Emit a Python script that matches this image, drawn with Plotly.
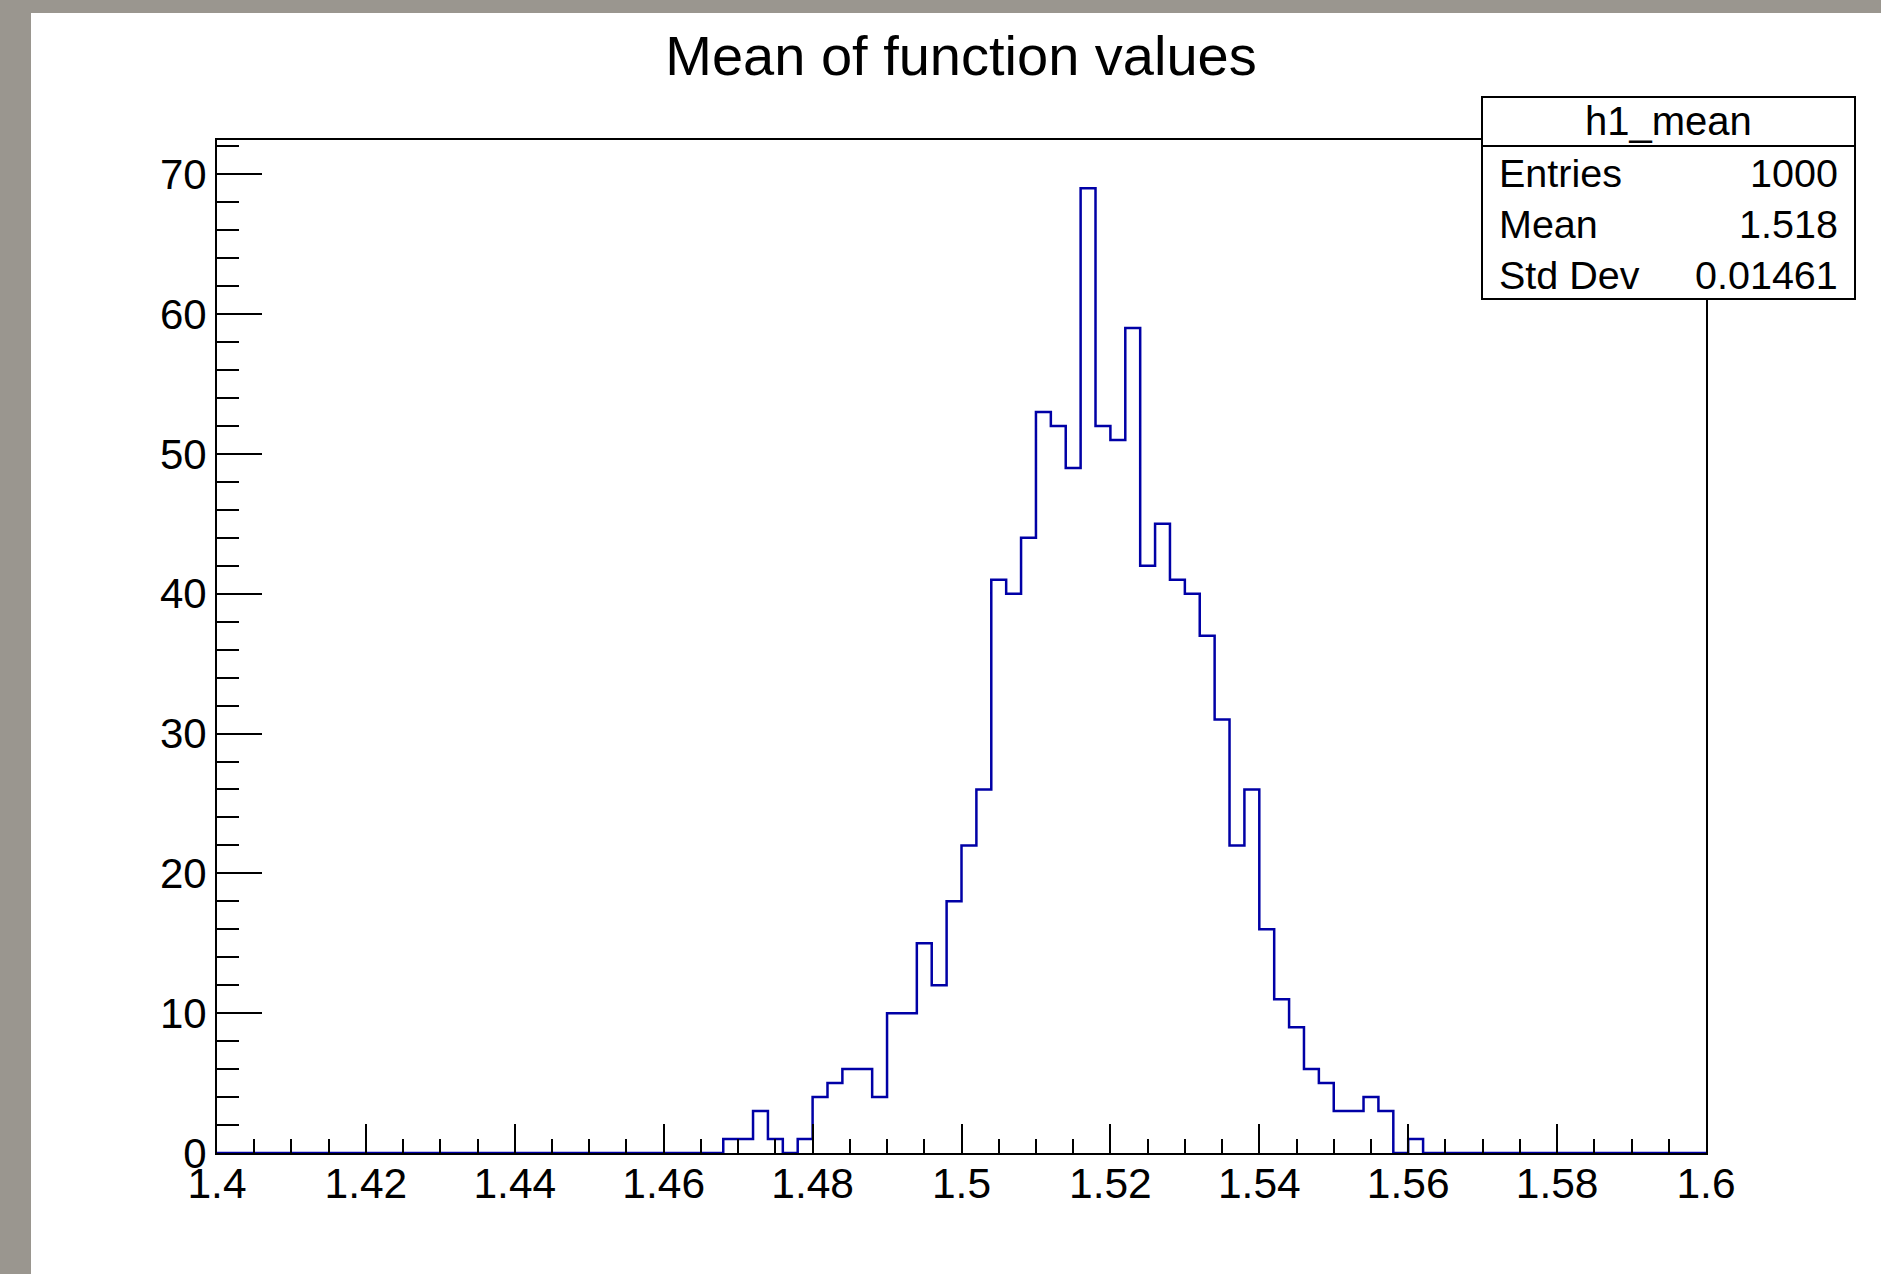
import plotly.graph_objects as go

# Histogram h1_mean: 100 bins between 1.4 and 1.6
bin_low = 1.4
bin_high = 1.6
n_bins = 100
counts = [
    0, 0, 0, 0, 0, 0, 0, 0, 0, 0,
    0, 0, 0, 0, 0, 0, 0, 0, 0, 0,
    0, 0, 0, 0, 0, 0, 0, 0, 0, 0,
    0, 0, 0, 0, 1, 1, 3, 1, 0, 1,
    4, 5, 6, 6, 4, 10, 10, 15, 12, 18,
    22, 26, 41, 40, 44, 53, 52, 49, 69, 52,
    51, 59, 42, 45, 41, 40, 37, 31, 22, 26,
    16, 11, 9, 6, 5, 3, 3, 4, 3, 0,
    1, 0, 0, 0, 0, 0, 0, 0, 0, 0,
    0, 0, 0, 0, 0, 0, 0, 0, 0, 0,
]

x_tick_vals = [1.4, 1.42, 1.44, 1.46, 1.48, 1.5, 1.52, 1.54, 1.56, 1.58, 1.6]
x_tick_text = ["1.4", "1.42", "1.44", "1.46", "1.48", "1.5", "1.52", "1.54", "1.56", "1.58", "1.6"]
y_tick_vals = [0, 10, 20, 30, 40, 50, 60, 70]
y_tick_text = ["0", "10", "20", "30", "40", "50", "60", "70"]

title_text = "Mean of function values"
stats_name = "h1_mean"
stats_labels = ["Entries", "Mean", "Std Dev"]
stats_values = ["1000", "1.518", "0.01461"]

# canvas geometry (pixels)
W, H = 1881, 1274
L, R, T, B = 217, 1706, 140, 1153
FONT = "Liberation Sans, Arial, Helvetica, sans-serif"
LINE_BLUE = "#0000a6"
FRAME_GREY = "#9a968f"


def px(xp):
    return (xp - L) / (R - L)


def py(yp):
    return (B - yp) / (B - T)


# step outline through bin edges
width = (bin_high - bin_low) / n_bins
edges = [bin_low + i * width for i in range(n_bins + 1)]
step_x = edges[:]
step_y = counts + [counts[-1]]

fig = go.Figure()
fig.add_trace(go.Scatter(
    x=step_x, y=step_y, mode="lines",
    line=dict(shape="hv", color=LINE_BLUE, width=2.5),
    hoverinfo="skip", showlegend=False,
))

y_max = max(counts) * 1.05

fig.update_layout(
    width=W, height=H,
    margin=dict(l=L, r=W - R, t=T, b=H - B, pad=0),
    paper_bgcolor="white",
    plot_bgcolor="white",
    showlegend=False,
    font=dict(family=FONT, color="black"),
    title=dict(
        text=title_text, x=961 / W, y=1 - 55 / H,
        xref="container", yref="container",
        xanchor="center", yanchor="middle",
        font=dict(family=FONT, size=56, color="black"),
    ),
    xaxis=dict(
        range=[bin_low, bin_high], showgrid=False, zeroline=False,
        showline=True, linecolor="black", linewidth=2, mirror=True,
        tickmode="array", tickvals=x_tick_vals, ticktext=x_tick_text,
        ticks="inside", ticklen=29, tickwidth=2, tickcolor="black",
        tickfont=dict(family=FONT, size=42.5, color="black"),
        ticklabelstandoff=-8,
        minor=dict(dtick=0.005, tick0=bin_low, ticks="inside", ticklen=14,
                   tickwidth=2, tickcolor="black", showgrid=False),
    ),
    yaxis=dict(
        range=[0, y_max], showgrid=False, zeroline=False,
        showline=True, linecolor="black", linewidth=2, mirror=True,
        tickmode="array", tickvals=y_tick_vals, ticktext=y_tick_text,
        ticks="inside", ticklen=45, tickwidth=2, tickcolor="black",
        tickfont=dict(family=FONT, size=42, color="black"),
        ticklabelstandoff=0,
        minor=dict(dtick=2, tick0=0, ticks="inside", ticklen=22,
                   tickwidth=2, tickcolor="black", showgrid=False),
    ),
)

shapes = [
    # grey window frame on the left and top
    dict(type="rect", xref="paper", yref="paper", layer="below",
         x0=px(0), x1=px(31), y0=py(H), y1=py(0),
         fillcolor=FRAME_GREY, line=dict(width=0)),
    dict(type="rect", xref="paper", yref="paper", layer="below",
         x0=px(0), x1=px(W), y0=py(13), y1=py(0),
         fillcolor=FRAME_GREY, line=dict(width=0)),
    # statistics box
    dict(type="rect", xref="paper", yref="paper", layer="above",
         x0=px(1482), x1=px(1855), y0=py(299), y1=py(97),
         fillcolor="white", line=dict(color="black", width=2)),
    dict(type="line", xref="paper", yref="paper", layer="above",
         x0=px(1482), x1=px(1855), y0=py(146), y1=py(146),
         line=dict(color="black", width=2)),
]
fig.update_layout(shapes=shapes)

annotations = [
    dict(text=stats_name, x=px(1668.5), y=py(121), xref="paper", yref="paper",
         xanchor="center", yanchor="middle", showarrow=False,
         font=dict(family=FONT, size=40, color="black")),
]
row_centres = [173, 224, 275]
for label, value, yc in zip(stats_labels, stats_values, row_centres):
    annotations.append(dict(
        text=label, x=px(1497), y=py(yc), xref="paper", yref="paper",
        xanchor="left", yanchor="middle", showarrow=False,
        font=dict(family=FONT, size=39.5, color="black")))
    annotations.append(dict(
        text=value, x=px(1840), y=py(yc), xref="paper", yref="paper",
        xanchor="right", yanchor="middle", showarrow=False,
        font=dict(family=FONT, size=39.5, color="black")))
fig.update_layout(annotations=annotations)

fig.write_html("out.html")
